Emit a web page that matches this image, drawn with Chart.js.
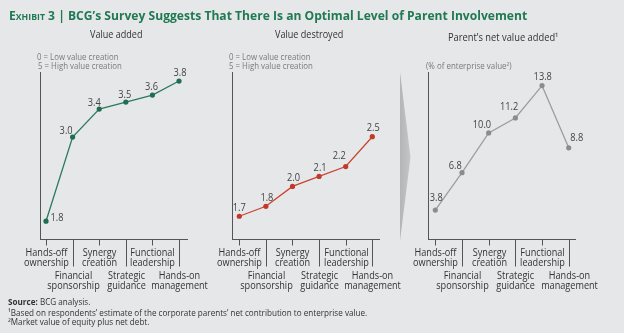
<!DOCTYPE html>
<html><head><meta charset="utf-8">
<script src="https://cdn.jsdelivr.net/npm/chart.js@4.4.1/dist/chart.umd.min.js"></script>
<style>
html,body{margin:0;padding:0;background:#e6e7e9;}
#wrap{position:relative;width:624px;height:333px;overflow:hidden;background:#e6e7e9;font-family:"Open Sans","Noto Sans",sans-serif;}
canvas{position:absolute;left:0;top:0;}
.t{position:absolute;white-space:nowrap;line-height:1.2;left:0;top:0;}
svg{position:absolute;left:0;top:0;}
</style></head><body>
<div id="wrap">
<svg width="624" height="333"><defs><linearGradient id="ag" x1="0" x2="1" y1="0" y2="0"><stop offset="0" stop-color="#b3b5b8"/><stop offset="1" stop-color="#c4c6c8"/></linearGradient></defs><polygon points="400,72 410.5,157 400,241" fill="url(#ag)"/></svg>
<canvas id="c1" width="624" height="333"></canvas>
<canvas id="c2" width="624" height="333"></canvas>
<canvas id="c3" width="624" height="333"></canvas>
<div class="t" data-x="9" data-b="19.5" data-fs="12.5" data-w="518" style="font-weight:bold;color:#1f7a52"><span style="font-variant:small-caps">Exhibit</span> 3 | BCG’s Survey Suggests That There Is an Optimal Level of Parent Involvement</div>
<div class="t" data-x="115.8" data-a="c" data-b="37.5" data-fs="10" data-w="52.5" style="color:#333">Value added</div>
<div class="t" data-x="309" data-a="c" data-b="37.5" data-fs="10" data-w="68" style="color:#333">Value destroyed</div>
<div class="t" data-x="503" data-a="c" data-b="41" data-fs="10" data-w="110" style="color:#333">Parent’s net value added¹</div>
<div class="t" data-x="37" data-b="60" data-fs="9" data-w="82" style="color:#7a7a7a">0 = Low value creation</div>
<div class="t" data-x="37.5" data-b="69" data-fs="9" data-w="84" style="color:#7a7a7a">5 = High value creation</div>
<div class="t" data-x="229.3" data-b="60" data-fs="9" data-w="82" style="color:#7a7a7a">0 = Low value creation</div>
<div class="t" data-x="229.3" data-b="69" data-fs="9" data-w="84" style="color:#7a7a7a">5 = High value creation</div>
<div class="t" data-x="426" data-b="68.5" data-fs="8.5" data-w="86" style="color:#7a7a7a">(% of enterprise value²)</div>
<div class="t fn" data-x="8" data-b="305" data-fs="8.5" style="color:#333"><b>Source:</b> BCG analysis.</div>
<div class="t fn" id="fnref" data-x="8" data-b="315.5" data-fs="8.5" data-w="359" style="color:#333">¹Based on respondents’ estimate of the corporate parents’ net contribution to enterprise value.</div>
<div class="t fn" data-x="8" data-b="324.5" data-fs="8.5" style="color:#333">²Market value of equity plus net debt.</div>
</div>
<script>
// ---- data ----
const categories = [["Hands-off","ownership"],["Financial","sponsorship"],["Synergy","creation"],["Strategic","guidance"],["Functional","leadership"],["Hands-on","management"]];
const valueAdded = [1.8, 3.0, 3.4, 3.5, 3.6, 3.8];
const valueDestroyed = [1.7, 1.8, 2.0, 2.1, 2.2, 2.5];
const netValueAdded = [3.8, 6.8, 10.0, 11.2, 13.8, 8.8];

// ---- text placement (fixed font size, horizontal squeeze to match widths) ----
function place(el, forceScale){
  const fs = parseFloat(el.dataset.fs);
  el.style.fontSize = fs + 'px';
  const w0 = el.offsetWidth;
  let sx = forceScale || 1;
  if (!forceScale && el.dataset.w) sx = parseFloat(el.dataset.w) / w0;
  const probe = document.createElement('span');
  probe.style.cssText = 'display:inline-block;width:0;height:0;vertical-align:baseline;';
  el.appendChild(probe);
  const baseOff = probe.offsetTop;
  el.removeChild(probe);
  const x = parseFloat(el.dataset.x);
  const w = w0 * sx;
  const left = el.dataset.a === 'c' ? x - w / 2 : x;
  el.style.left = left + 'px';
  el.style.top = (parseFloat(el.dataset.b) - baseOff) + 'px';
  el.style.transformOrigin = '0 0';
  el.style.transform = 'scaleX(' + sx + ')';
  return sx;
}
const fnEl = document.getElementById('fnref');
const fnScale = place(fnEl);
document.querySelectorAll('.t').forEach(el => { if (el === fnEl) return; place(el, el.classList.contains('fn') ? fnScale : 0); });

// ---- plugins ----
const FONT = '"Open Sans","Noto Sans",sans-serif';
function squeezeText(ctx, t, x, y, sx) {
  ctx.save(); ctx.translate(x, y); ctx.scale(sx, 1); ctx.fillText(t, 0, 0); ctx.restore();
}
const catAxis = {
  id: 'catAxis',
  afterDraw(chart) {
    const {ctx} = chart; const x = chart.scales.x; const base = Math.round(chart.chartArea.bottom) + 0.5;
    ctx.save();
    ctx.strokeStyle = '#555'; ctx.lineWidth = 1;
    ctx.fillStyle = '#333'; ctx.font = '10.5px ' + FONT; ctx.textAlign = 'center'; ctx.textBaseline = 'alphabetic';
    categories.forEach((lines, i) => {
      const px = Math.round(x.getPixelForValue(i)) + 0.5;
      const odd = i % 2 === 1;
      ctx.beginPath(); ctx.moveTo(px, base); ctx.lineTo(px, base + (odd ? 27 : 6)); ctx.stroke();
      const rows = odd ? [39.5, 49.5] : [16.5, 26.5];
      lines.forEach((t, k) => squeezeText(ctx, t, px, base + rows[k], 0.87));
    });
    ctx.restore();
  }
};
const valLabels = {
  id: 'valLabels',
  afterDatasetsDraw(chart, args, o) {
    const meta = chart.getDatasetMeta(0); const ctx = chart.ctx;
    ctx.save(); ctx.font = '10.5px ' + FONT; ctx.fillStyle = '#444'; ctx.textAlign = 'center'; ctx.textBaseline = 'middle';
    meta.data.forEach((pt, i) => {
      const v = chart.data.datasets[0].data[i].y;
      const d = o.offsets[i];
      squeezeText(ctx, v.toFixed(1), pt.x + d[0], pt.y + d[1], 0.88);
    });
    ctx.restore();
  }
};

function makeChart(id, values, lineColor, ptColor, area, xr, yr, offsets) {
  return new Chart(document.getElementById(id), {
    type: 'line',
    data: { datasets: [{
      data: values.map((v, i) => ({x: i, y: v})),
      borderColor: lineColor, backgroundColor: ptColor, pointBackgroundColor: ptColor,
      pointBorderWidth: 0, pointRadius: 2.6, borderWidth: 1.3, tension: 0
    }]},
    options: {
      responsive: false, animation: false, devicePixelRatio: 1,
      layout: { autoPadding: false, padding: { left: area[0], right: 624 - area[1], top: area[2], bottom: 333 - area[3] } },
      plugins: { legend: {display: false}, tooltip: {enabled: false}, valLabels: { offsets } },
      scales: {
        x: { type: 'linear', min: xr[0], max: xr[1], grid: {display: false, drawTicks: false, tickLength: 0}, ticks: {display: false}, border: {display: true, color: '#555', width: 1} },
        y: { type: 'linear', min: yr[0], max: yr[1], grid: {display: false, drawTicks: false, tickLength: 0}, ticks: {display: false}, border: {display: true, color: '#555', width: 1} }
      }
    },
    plugins: [catAxis, valLabels]
  });
}

makeChart('c1', valueAdded, '#2a7b5c', '#1f6e50', [40, 187, 72, 239], [-0.2256, 5.30], [1.546, 3.929],
  [[11, -3], [-6.5, -6.5], [-5, -6.5], [-1, -7.5], [-1, -8], [1, -8.5]]);
makeChart('c2', valueDestroyed, '#c9452f', '#c0392b', [232, 379.5, 72, 239], [-0.274, 5.271], [1.471, 3.151],
  [[0, -8.5], [1, -8.7], [1, -8.6], [1, -8.3], [-6.4, -10.6], [1, -8.6]]);
makeChart('c3', netValueAdded, '#9d9d9d', '#8c8c8c', [428.5, 575, 72, 239], [-0.255, 5.235], [1.471, 14.895],
  [[1, -12], [-6.7, -6.7], [-6.7, -8.3], [-6.3, -11], [0.7, -9], [8, -9.4]]);
</script>
</body></html>
